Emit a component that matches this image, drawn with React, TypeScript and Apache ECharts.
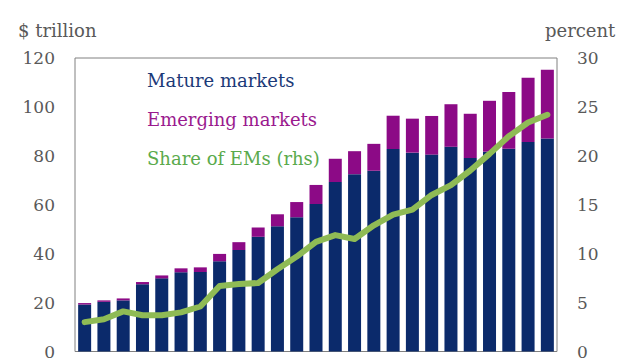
import React, { useEffect, useRef } from "react";
import * as echarts from "echarts";

const categories = Array.from({ length: 25 }, (_, i) => String(i + 1));
const matureMarkets = [19.2, 20.3, 20.9, 27.5, 29.9, 32.4, 32.5, 36.9, 41.5, 46.9, 51.2, 54.9, 60.3, 69.3, 72.5, 73.9, 82.8, 81.3, 80.5, 83.7, 79.1, 81.7, 82.9, 85.7, 87.1];
const totalMarkets = [19.8, 20.9, 21.7, 28.4, 31.1, 34.0, 34.4, 39.9, 44.7, 50.7, 56.1, 61.1, 68.1, 78.8, 81.9, 84.9, 96.4, 95.2, 96.3, 101.1, 97.2, 102.5, 106.1, 111.9, 115.2];
const emergingMarkets = totalMarkets.map((t, i) => +(t - matureMarkets[i]).toFixed(1));
const shareOfEMs = [3.0, 3.3, 4.1, 3.7, 3.7, 4.0, 4.6, 6.7, 6.9, 7.0, 8.4, 9.7, 11.2, 11.9, 11.5, 12.9, 14.0, 14.5, 16.0, 17.0, 18.5, 20.2, 22.0, 23.4, 24.2];

const FONT = "DejaVu Serif";

export default function App() {
  const ref = useRef<HTMLDivElement>(null);
  useEffect(() => {
    const chart = echarts.init(ref.current!, null, { renderer: "svg" });
    chart.setOption({
      animation: false,
      backgroundColor: "#ffffff",
      grid: { left: 75, right: 83, top: 58, bottom: 3, show: true, borderColor: "#808080", borderWidth: 1 },
      xAxis: {
        type: "category",
        data: categories,
        axisLine: { show: false },
        axisTick: { show: false },
        axisLabel: { show: false },
      },
      yAxis: [
        {
          type: "value",
          min: 0,
          max: 120,
          interval: 20,
          axisLine: { show: false },
          axisTick: { show: false },
          splitLine: { show: false },
          axisLabel: { color: "#595959", fontFamily: FONT, fontSize: 17, margin: 20 },
        },
        {
          type: "value",
          min: 0,
          max: 30,
          interval: 5,
          axisLine: { show: false },
          axisTick: { show: false },
          splitLine: { show: false },
          axisLabel: { color: "#595959", fontFamily: FONT, fontSize: 17, margin: 20 },
        },
      ],
      series: [
        {
          name: "Mature markets",
          type: "bar",
          stack: "total",
          data: matureMarkets,
          barWidth: 13,
          itemStyle: { color: "#0b2a6b" },
        },
        {
          name: "Emerging markets",
          type: "bar",
          stack: "total",
          data: emergingMarkets,
          barWidth: 13,
          itemStyle: { color: "#8c0a86" },
        },
        {
          name: "Share of EMs (rhs)",
          type: "line",
          yAxisIndex: 1,
          data: shareOfEMs,
          symbol: "none",
          lineStyle: { color: "#8fbb55", width: 6, cap: "round", join: "round" },
        },
      ],
      graphic: [
        { type: "text", left: 18, top: 21, style: { text: "$ trillion", fill: "#595959", font: `18px "${FONT}"` } },
        { type: "text", left: 545, top: 21, style: { text: "percent", fill: "#595959", font: `18px "${FONT}"` } },
        { type: "text", left: 147, top: 71, style: { text: "Mature markets", fill: "#1c3a78", font: `18px "${FONT}"` } },
        { type: "text", left: 147, top: 110, style: { text: "Emerging markets", fill: "#9a1a8e", font: `18px "${FONT}"` } },
        { type: "text", left: 147, top: 149, style: { text: "Share of EMs (rhs)", fill: "#5aaa4c", font: `18px "${FONT}"` } },
      ],
    });
    return () => chart.dispose();
  }, []);
  return <div ref={ref} style={{ position: "fixed", left: 0, top: 0, width: 640, height: 360 }} />;
}
